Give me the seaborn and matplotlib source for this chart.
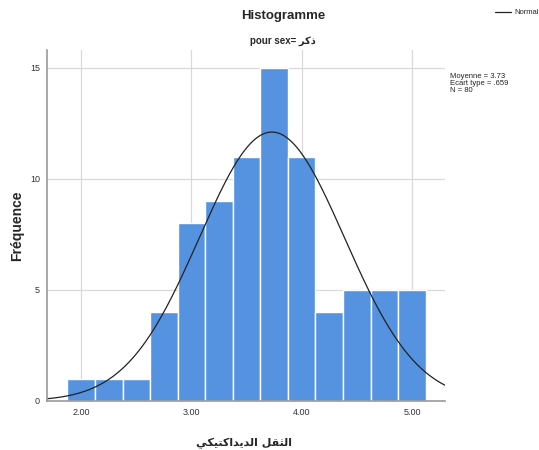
import numpy as np
import pandas as pd
import matplotlib
matplotlib.use("Agg")
import matplotlib.pyplot as plt
import seaborn as sns

# ---- data ----
bin_edges = [1.875, 2.125, 2.375, 2.625, 2.875, 3.125, 3.375, 3.625,
             3.875, 4.125, 4.375, 4.625, 4.875, 5.125]
counts = [1, 1, 1, 4, 8, 9, 11, 15, 11, 4, 5, 5, 5]
mean_val = 3.73
sd_val = 0.659
n_val = 80
x_ticks = [2.0, 3.0, 4.0, 5.0]
x_tick_labels = ["2.00", "3.00", "4.00", "5.00"]
y_ticks = [0, 5, 10, 15]

title = "Histogramme"
# "pour sex= ذكر" (Arabic in presentation forms, visual order)
subtitle = "pour sex= \uFEAE\uFEDB\uFEAB"
# "الثقل الديداكتيكي" in presentation forms, visual order
xlabel = ("\uFEF2\uFEDC\uFEF4\uFE98\uFEDB\uFE8D\uFEAA\uFEF3\uFEAA\uFEDF\uFE8D"
          " \uFEDE\uFED8\uFE9C\uFEDF\uFE8D")
ylabel = "Fréquence"

sns.set_style("white")
plt.rcParams['font.family'] = ['Liberation Sans', 'DejaVu Sans']

centers = [(a + b) / 2 for a, b in zip(bin_edges[:-1], bin_edges[1:])]
df = pd.DataFrame({"x": centers, "w": counts})

fig = plt.figure(figsize=(5.39, 4.5), dpi=100)
ax = fig.add_axes([0.0872, 0.1089, 0.7384, 0.78])

ax.set_axisbelow(True)
ax.grid(True, color="#d9d9d9", linewidth=0.9)

sns.histplot(data=df, x="x", weights="w", bins=bin_edges, ax=ax,
             color="#5592e0", alpha=1.0, edgecolor="white", linewidth=1.0)

xs = np.linspace(1.69, 5.30, 300)
binw = bin_edges[1] - bin_edges[0]
ys = n_val * binw / (sd_val * np.sqrt(2 * np.pi)) * np.exp(-0.5 * ((xs - mean_val) / sd_val) ** 2)
sns.lineplot(x=xs, y=ys, ax=ax, color="#222222", linewidth=0.9, label="Normal")

ax.set_xlim(1.69, 5.30)
ax.set_ylim(0, 15.8)
ax.set_xticks(x_ticks)
ax.set_xticklabels(x_tick_labels)
ax.set_yticks(y_ticks)
ax.tick_params(axis="both", labelsize=6.5, colors="#333333", length=0, pad=5)

for side in ["top", "right"]:
    ax.spines[side].set_visible(False)
for side in ["left", "bottom"]:
    ax.spines[side].set_color("#9a9a9a")
    ax.spines[side].set_linewidth(1.2)

ax.set_xlabel(xlabel, fontsize=8, fontweight="bold", family=["DejaVu Sans"])
ax.xaxis.set_label_coords(0.495, -0.105)
ax.set_ylabel(ylabel, fontsize=10, fontweight="bold")
ax.yaxis.set_label_coords(-0.058, 0.5)

fig.text(0.525, 0.965, title, ha="center", va="center", fontsize=9.5, fontweight="bold")
fig.text(0.525, 0.908, subtitle, ha="center", va="center", fontsize=7, fontweight="bold",
         family=["Liberation Sans", "DejaVu Sans"])

leg = ax.legend(loc="upper left", bbox_to_anchor=(0.905, 0.995), bbox_transform=fig.transFigure,
                frameon=False, fontsize=5.5, handlelength=2.2, handletextpad=0.4)

fig.text(0.835, 0.838, "Moyenne = 3.73\nEcart type = .659\nN = 80", ha="left", va="top",
         fontsize=5.5, linespacing=1.0, color="#222222")

fig.savefig("out.png", dpi=100)
